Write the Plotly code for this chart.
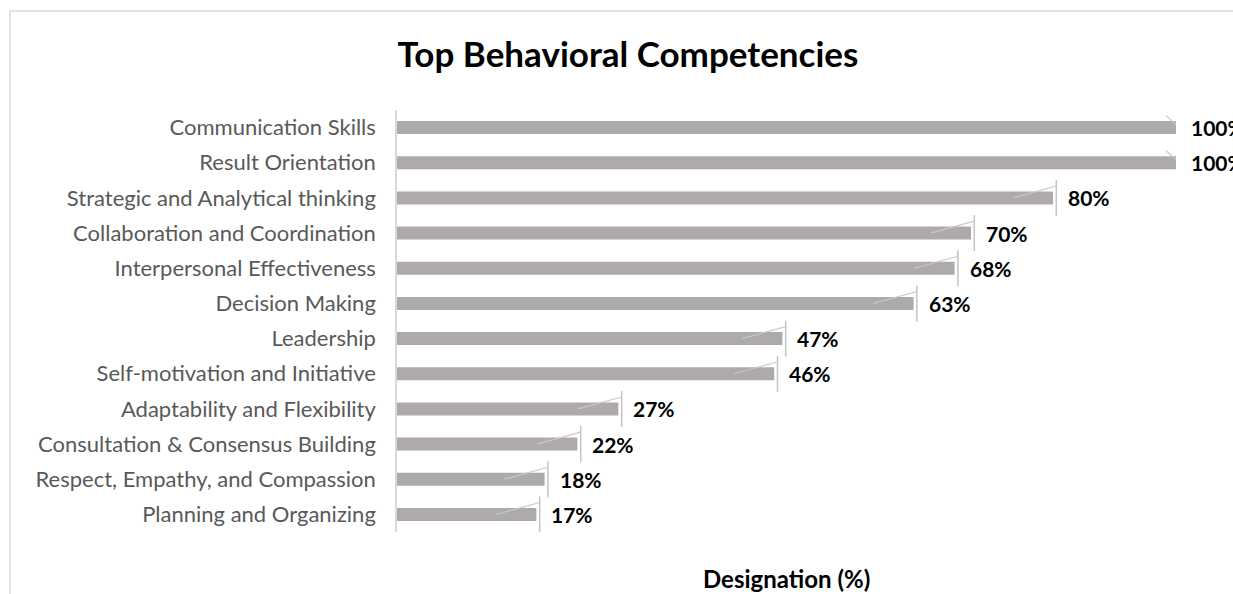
import plotly.graph_objects as go

categories = [
    "Communication Skills",
    "Result Orientation",
    "Strategic and Analytical thinking",
    "Collaboration and Coordination",
    "Interpersonal Effectiveness",
    "Decision Making",
    "Leadership",
    "Self-motivation and Initiative",
    "Adaptability and Flexibility",
    "Consultation & Consensus Building",
    "Respect, Empathy, and Compassion",
    "Planning and Organizing",
]
values = [100, 100, 80, 70, 68, 63, 47, 46, 27, 22, 18, 17]
value_labels = [f"{v}%" for v in values]
x_title = "Designation (%)"
chart_title = "Top Behavioral Competencies"

XMAX = 95  # axis maximum (bars at 100% are clipped at the plot edge)

W, H = 1233, 594
L, R, T, B = 397, 57, 110, 62
PW, PH = W - L - R, H - T - B

ypos = list(range(len(categories)))
ends = [min(v, XMAX) for v in values]

FONT = "Lato"

fig = go.Figure()

fig.add_trace(go.Bar(
    x=values, y=ypos, orientation="h",
    marker=dict(color="#AEAAAA", line=dict(width=0)),
    width=0.37,
    hoverinfo="skip",
))

# decorative tick lines at bar ends (vertical) drawn as error caps
fig.add_trace(go.Scatter(
    x=[e + 0.4 for e in ends], y=ypos, mode="markers",
    marker=dict(size=1, color="rgba(0,0,0,0)"),
    error_x=dict(type="constant", value=0, width=18, color="#C4C4C4", thickness=1.5),
    hoverinfo="skip", cliponaxis=False,
))

# decorative diagonal strokes
dx, dy = [], []
for v, e, y in zip(values, ends, ypos):
    if v > XMAX:
        dx += [e - 1.2, e + 0.4, None]
        dy += [y - 0.34, y, None]
    else:
        dx += [e - 4.9, e + 0.4, None]
        dy += [y, y - 0.34, None]
fig.add_trace(go.Scatter(
    x=dx, y=dy, mode="lines",
    line=dict(color="#C8C8C8", width=1.2),
    hoverinfo="skip", cliponaxis=False,
))

for e, y, t in zip(ends, ypos, value_labels):
    fig.add_annotation(
        x=e, y=y, xref="x", yref="y", text=f"<b>{t}</b>",
        showarrow=False, xanchor="left", yanchor="middle", xshift=13,
        font=dict(family=FONT, size=21, color="#000000"),
    )

# x axis title
fig.add_annotation(
    x=0.5, y=-(578 - (T + PH)) / PH, xref="paper", yref="paper",
    text=f"<b>{x_title}</b>", showarrow=False,
    xanchor="center", yanchor="middle",
    font=dict(family=FONT, size=24, color="#000000"),
)

# outer chart border
fig.add_shape(
    type="rect", xref="paper", yref="paper",
    x0=(10 - L) / PW, x1=(W + 20 - L) / PW,
    y0=-(H + 20 - (T + PH)) / PH, y1=(T + PH - 11) / PH,
    line=dict(color="#D9D9D9", width=1.5), fillcolor="rgba(0,0,0,0)",
    layer="below",
)

fig.update_layout(
    width=W, height=H,
    margin=dict(l=L, r=R, t=T, b=B, pad=0),
    paper_bgcolor="white", plot_bgcolor="white",
    showlegend=False,
    title=dict(
        text=f"<b>{chart_title}</b>",
        x=628 / W, xanchor="center", y=1 - 55 / H, yanchor="middle",
        font=dict(family=FONT, size=35, color="#000000"),
    ),
    xaxis=dict(
        range=[0, XMAX], showgrid=False, zeroline=False, showticklabels=False,
        showline=False, ticks="", automargin=False,
    ),
    yaxis=dict(
        range=[len(categories) - 0.5, -0.5],
        tickvals=ypos, ticktext=categories,
        showgrid=False, zeroline=False, automargin=False,
        showline=True, linecolor="#D9D9D9", linewidth=1.5,
        ticks="outside", ticklen=0, ticklabelstandoff=15,
        tickfont=dict(family=FONT, size=22, color="#595959"),
    ),
    bargap=0.63,
)

fig.write_html("out.html", config={"displayModeBar": False},
               post_script="document.body.style.margin='0px';")
